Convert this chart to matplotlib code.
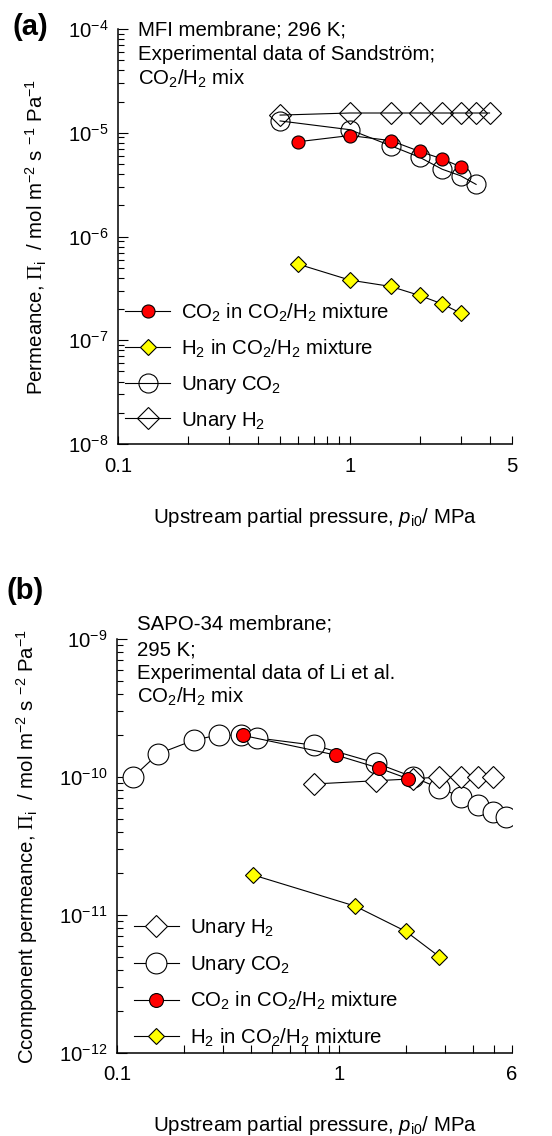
import matplotlib
matplotlib.use("Agg")
import matplotlib.pyplot as plt
from matplotlib.ticker import FixedLocator, LogLocator, LogFormatterSciNotation, NullFormatter, FixedFormatter

plt.rcParams['font.family'] = ['Liberation Sans', 'DejaVu Sans']
plt.rcParams['mathtext.fontset'] = 'custom'
plt.rcParams['mathtext.rm'] = 'Liberation Sans'
plt.rcParams['mathtext.it'] = 'Liberation Sans:italic'
plt.rcParams['mathtext.bf'] = 'Liberation Sans:bold'
plt.rcParams['mathtext.sf'] = 'Liberation Serif'
FS = 14.7
plt.rcParams['font.size'] = FS

# ---- panel (a): MFI, 296 K ----
p_a_unary_h2 = [0.5, 1.0, 1.5, 2.0, 2.5, 3.0, 3.5, 4.0]
Pi_a_unary_h2 = [1.48e-5, 1.55e-5, 1.55e-5, 1.55e-5, 1.55e-5, 1.55e-5, 1.55e-5, 1.55e-5]
p_a_unary_co2 = [0.5, 1.0, 1.5, 2.0, 2.5, 3.0, 3.5]
Pi_a_unary_co2 = [1.30e-5, 1.07e-5, 7.5e-6, 5.8e-6, 4.45e-6, 3.85e-6, 3.18e-6]
p_a_mix = [0.6, 1.0, 1.5, 2.0, 2.5, 3.0]
Pi_a_mix_co2 = [8.2e-6, 9.4e-6, 8.4e-6, 6.6e-6, 5.6e-6, 4.7e-6]
Pi_a_mix_h2 = [5.4e-7, 3.8e-7, 3.3e-7, 2.7e-7, 2.24e-7, 1.83e-7]

# ---- panel (b): SAPO-34, 295 K ----
p_b_unary_co2 = [0.118, 0.153, 0.222, 0.288, 0.362, 0.427, 0.772, 1.47, 2.15, 2.82, 3.54, 4.23, 4.94, 5.65]
Pi_b_unary_co2 = [1.0e-10, 1.47e-10, 1.85e-10, 2.02e-10, 2.0e-10, 1.92e-10, 1.7e-10, 1.26e-10,
                  1.0e-10, 8.3e-11, 7.2e-11, 6.3e-11, 5.6e-11, 5.1e-11]
p_b_unary_h2 = [0.772, 1.47, 2.15, 2.82, 3.54, 4.23, 4.94]
Pi_b_unary_h2 = [8.9e-11, 9.4e-11, 9.7e-11, 1.0e-10, 1.0e-10, 1.0e-10, 1.0e-10]
p_b_mix_co2 = [0.37, 0.97, 1.51, 2.05]
Pi_b_mix_co2 = [2.0e-10, 1.44e-10, 1.16e-10, 9.7e-11]
p_b_mix_h2 = [0.41, 1.18, 2.0, 2.82]
Pi_b_mix_h2 = [1.95e-11, 1.16e-11, 7.6e-12, 5.0e-12]

xticks_a = [0.1, 1, 5]
xticks_b = [0.1, 1, 6]

lab_co2_mix = r'CO$_2$ in CO$_2$/H$_2$ mixture'
lab_h2_mix = r'H$_2$ in CO$_2$/H$_2$ mixture'
lab_co2_un = r'Unary CO$_2$'
lab_h2_un = r'Unary H$_2$'

W, H = 552, 1136
fig = plt.figure(figsize=(W / 100, H / 100), dpi=100)

def px_axes(l, r, t, b):
    return fig.add_axes([l / W, 1 - b / H, (r - l) / W, (b - t) / H])

ax_a = px_axes(118, 512, 29, 444)
ax_b = px_axes(117, 512, 639, 1053)

lw = 0.8
mew = 0.8

def style(ax, xticks, xmax, ymin, ymax):
    ax.set_xscale('log')
    ax.set_yscale('log')
    ax.set_xlim(0.1, xmax)
    ax.set_ylim(ymin, ymax)
    for s in ['top', 'right']:
        ax.spines[s].set_visible(False)
    for s in ['left', 'bottom']:
        ax.spines[s].set_linewidth(1.1)
    ax.xaxis.set_major_locator(FixedLocator(xticks))
    ax.xaxis.set_major_formatter(FixedFormatter([('%g' % v) for v in xticks]))
    minors = [v * d for d in [0.1, 1] for v in range(2, 10) if v * d < xmax and v * d not in xticks]
    ax.xaxis.set_minor_locator(FixedLocator(minors))
    ax.xaxis.set_minor_formatter(NullFormatter())
    ax.yaxis.set_major_locator(LogLocator(base=10, numticks=20))
    ax.yaxis.set_major_formatter(LogFormatterSciNotation())
    ax.yaxis.set_minor_locator(LogLocator(base=10, subs=range(2, 10), numticks=20))
    ax.yaxis.set_minor_formatter(NullFormatter())
    ax.tick_params(axis='both', which='both', direction='in', width=0.8, labelsize=FS)
    ax.tick_params(axis='y', which='major', length=7, pad=7)
    ax.tick_params(axis='y', which='minor', length=4.5)
    ax.tick_params(axis='x', which='both', length=5.5, pad=9)

# panel (a)
style(ax_a, xticks_a, 5, 1e-8, 1e-4)
h_a_h2u, = ax_a.plot(p_a_unary_h2, Pi_a_unary_h2, '-', color='k', lw=lw, marker='D', ms=11,
                     mfc='none', mec='k', mew=mew, label=lab_h2_un)
h_a_co2u, = ax_a.plot(p_a_unary_co2, Pi_a_unary_co2, '-', color='k', lw=lw, marker='o', ms=13.7,
                      mfc='none', mec='k', mew=mew, label=lab_co2_un)
h_a_co2m, = ax_a.plot(p_a_mix, Pi_a_mix_co2, '-', color='k', lw=lw, marker='o', ms=9.4,
                      mfc='red', mec='k', mew=mew, label=lab_co2_mix)
h_a_h2m, = ax_a.plot(p_a_mix, Pi_a_mix_h2, '-', color='k', lw=lw, marker='D', ms=8,
                     mfc='yellow', mec='k', mew=mew, label=lab_h2_mix)
ax_a.legend(handles=[h_a_co2m, h_a_h2m, h_a_co2u, h_a_h2u], loc='lower left',
            bbox_to_anchor=(0.018, 0.03), frameon=False, borderpad=0, borderaxespad=0,
            handlelength=2.2, handletextpad=0.55, labelspacing=0.68, fontsize=FS)
ax_a.set_ylabel(r'Permeance, $\mathsf{\Pi}_\mathrm{i}$  / mol m$^{-2}$ s $^{-1}$ Pa$^{-1}$', fontsize=FS)
ax_a.yaxis.set_label_coords(-0.175, 0.5)
ax_a.set_xlabel(r'Upstream partial pressure, $p_\mathrm{i0}$/ MPa', fontsize=FS)
ax_a.xaxis.set_label_coords(0.5, -0.15)

for txt, yb in [('MFI membrane; 296 K;', 35), ('Experimental data of Sandstr\u00f6m;', 60),
                (r'CO$_2$/H$_2$ mix', 85)]:
    fig.text(138 / W, 1 - yb / H, txt, fontsize=FS, va='baseline', ha='left')
fig.text(13 / W, 1 - 35 / H, '(a)', fontsize=21, fontweight='bold', va='baseline', ha='left')

# panel (b)
style(ax_b, xticks_b, 6, 1e-12, 1e-9)
h_b_co2u, = ax_b.plot(p_b_unary_co2, Pi_b_unary_co2, '-', color='k', lw=lw, marker='o', ms=15,
                      mfc='white', mec='k', mew=mew, label=lab_co2_un)
h_b_h2u, = ax_b.plot(p_b_unary_h2, Pi_b_unary_h2, '-', color='k', lw=lw, marker='D', ms=11.5,
                     mfc='white', mec='k', mew=mew, label=lab_h2_un)
h_b_co2m, = ax_b.plot(p_b_mix_co2, Pi_b_mix_co2, '-', color='k', lw=lw, marker='o', ms=10,
                      mfc='red', mec='k', mew=mew, label=lab_co2_mix)
h_b_h2m, = ax_b.plot(p_b_mix_h2, Pi_b_mix_h2, '-', color='k', lw=lw, marker='D', ms=8,
                     mfc='yellow', mec='k', mew=mew, label=lab_h2_mix)
ax_b.legend(handles=[h_b_h2u, h_b_co2u, h_b_co2m, h_b_h2m], loc='lower left',
            bbox_to_anchor=(0.043, 0.01), frameon=False, borderpad=0, borderaxespad=0,
            handlelength=2.2, handletextpad=0.55, labelspacing=0.7, fontsize=FS)
ax_b.set_ylabel(r'Ccomponent permeance, $\mathsf{\Pi}_\mathrm{i}$  / mol m$^{-2}$ s $^{-2}$ Pa$^{-1}$',
                fontsize=FS)
ax_b.yaxis.set_label_coords(-0.195, 0.5)
ax_b.set_xlabel(r'Upstream partial pressure, $p_\mathrm{i0}$/ MPa', fontsize=FS)
ax_b.xaxis.set_label_coords(0.5, -0.148)

for txt, yb in [('SAPO-34 membrane;', 630), ('295 K;', 655), ('Experimental data of Li et al.', 679),
                (r'CO$_2$/H$_2$ mix', 703)]:
    fig.text(137 / W, 1 - yb / H, txt, fontsize=FS, va='baseline', ha='left')
fig.text(7 / W, 1 - 599 / H, '(b)', fontsize=21, fontweight='bold', va='baseline', ha='left')

fig.savefig('out.png', dpi=100)
